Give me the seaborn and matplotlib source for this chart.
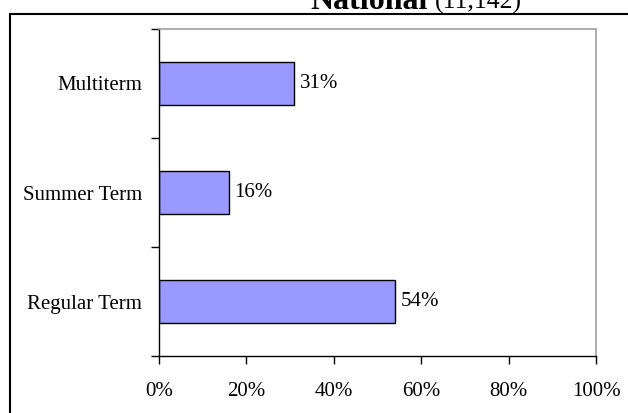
import matplotlib
matplotlib.use("Agg")
import matplotlib.pyplot as plt
from matplotlib.lines import Line2D
import seaborn as sns
import pandas as pd

categories = ["Multiterm", "Summer Term", "Regular Term"]
values = [31, 16, 54]
xtick_values = [0, 20, 40, 60, 80, 100]
xtick_labels = ["0%", "20%", "40%", "60%", "80%", "100%"]
title_bold = "National"
title_rest = "(11,142)"

sns.set_style("white")
plt.rcParams["font.family"] = ["Liberation Serif", "DejaVu Serif"]
plt.rcParams["text.color"] = "black"
plt.rcParams["xtick.color"] = "black"
plt.rcParams["ytick.color"] = "black"
plt.rcParams["axes.labelcolor"] = "black"

W, H = 628, 413
fig = plt.figure(figsize=(W / 100, H / 100), dpi=100)
ax = fig.add_axes([159 / W, (H - 356) / H, (596 - 159) / W, (356 - 29) / H])

df = pd.DataFrame({"category": categories, "value": values})
sns.barplot(data=df, x="value", y="category", order=categories, orient="h",
            color="#9999FF", saturation=1, edgecolor="black", linewidth=1.0,
            width=0.4, ax=ax)

ax.set_xlim(0, 100)
ax.set_ylim(2.5, -0.5)
ax.set_xlabel("")
ax.set_ylabel("")

ax.set_xticks(xtick_values)
ax.set_xticklabels(xtick_labels, fontsize=15)
ax.tick_params(axis="x", direction="out", length=6, width=1, colors="black",
               pad=13, bottom=True)

ax.set_yticks([-0.5, 0.5, 1.5, 2.5])
ax.set_yticklabels([])
ax.tick_params(axis="y", which="major", direction="out", length=6, width=1,
               colors="black", left=True)
ax.set_yticks([0, 1, 2], minor=True)
ax.set_yticklabels(categories, minor=True, fontsize=15, color="black")
ax.tick_params(axis="y", which="minor", length=0, pad=12, colors="black")

for side in ["left", "bottom"]:
    ax.spines[side].set_color("black")
    ax.spines[side].set_linewidth(1.0)
for side in ["top", "right"]:
    ax.spines[side].set_color("#A0A0A0")
    ax.spines[side].set_linewidth(1.2)
    ax.spines[side].set_visible(True)

for cont in ax.containers:
    ax.bar_label(cont, labels=[f"{v}%" for v in values], padding=4, fontsize=15,
                 color="black")

# outer frame (left and top edges visible)
fig.add_artist(Line2D([10 / W, 10 / W], [-0.01, 1 - 14 / H], transform=fig.transFigure,
                      color="black", linewidth=1.5))
fig.add_artist(Line2D([10 / W, 1.01], [1 - 14 / H, 1 - 14 / H], transform=fig.transFigure,
                      color="black", linewidth=1.5))

# title (partially cut at top, as in the reference)
fig.text(310 / W, 1 - 9 / H, title_bold, fontsize=23, fontweight="bold",
         ha="left", va="baseline", color="black")
fig.text(522 / W, 1 - 9 / H, title_rest, fontsize=18.5, ha="right", va="baseline",
         color="black")

fig.savefig("out.png", dpi=100)
